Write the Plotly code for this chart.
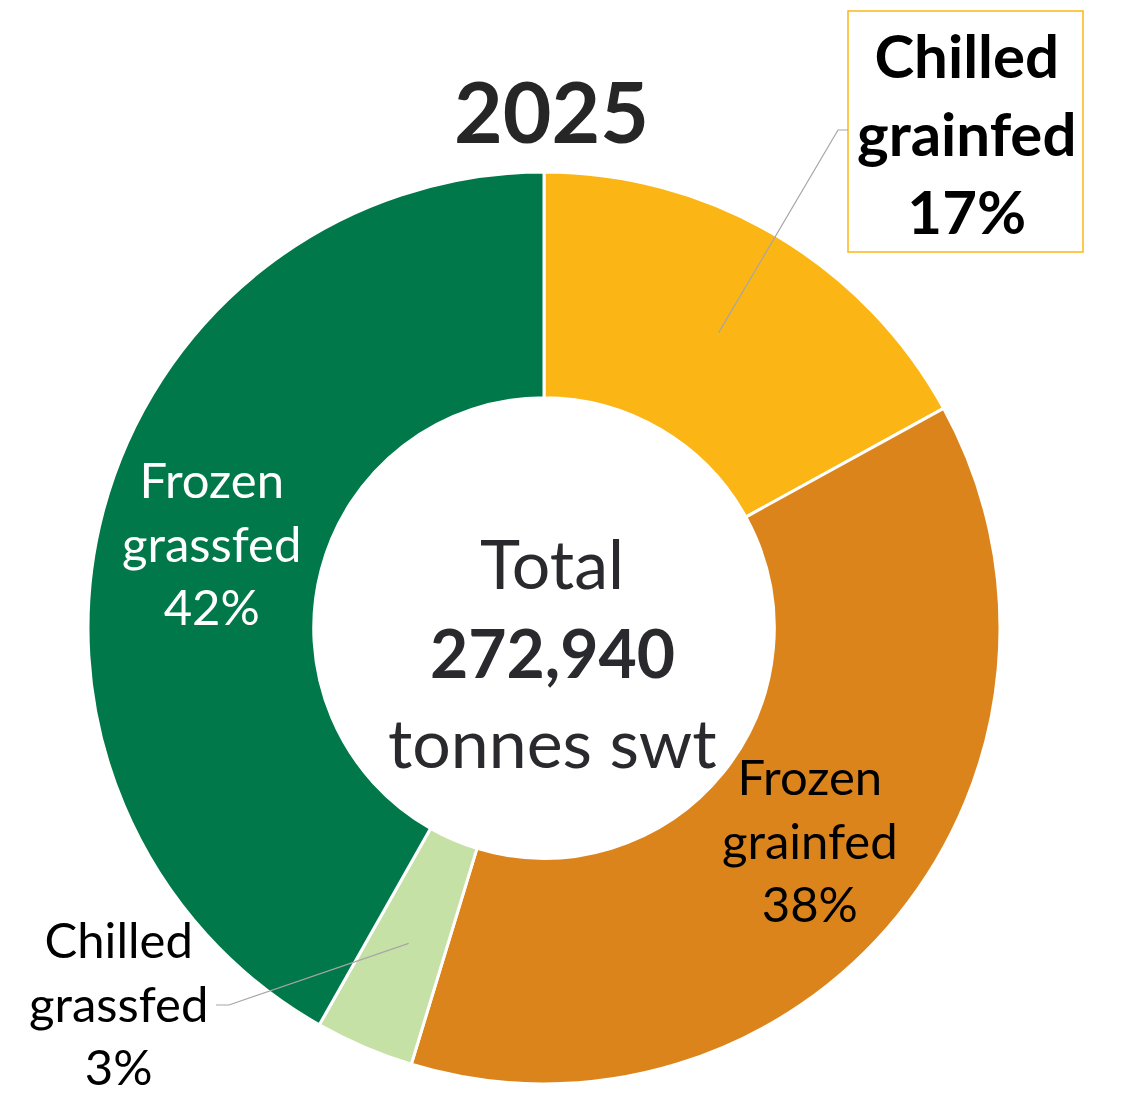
import math
import plotly.graph_objects as go

W, H = 1122, 1097

# ---- data ----
title_year = "2025"
categories = ["Chilled grainfed", "Frozen grainfed", "Chilled grassfed", "Frozen grassfed"]
shares = [17.0, 37.7, 3.5, 41.8]          # share of total volume (%)
pct_labels = ["17%", "38%", "3%", "42%"]
colors = ["#FBB616", "#DC841C", "#C6E1A6", "#00784A"]
total_tonnes = 272940
unit_label = "tonnes swt"

# ---- geometry (pixels) ----
cx, cy, R = 544, 628, 456
hole = 0.505
FONT = "Lato"

def px(x):
    return x / W

def py(y):
    return 1 - y / H

fig = go.Figure()
fig.add_trace(go.Pie(
    labels=categories,
    values=shares,
    sort=False,
    direction="clockwise",
    rotation=0,
    hole=hole,
    marker=dict(colors=colors, line=dict(color="white", width=3)),
    textinfo="none",
    hoverinfo="label+percent",
    showlegend=False,
    domain=dict(x=[px(cx - R), px(cx + R)], y=[py(cy + R), py(cy - R)]),
))

# mid-angle point of a slice on the ring centre line (computed from data)
tot = sum(shares)
def slice_mid_point(i, rfrac):
    start = sum(shares[:i]) / tot * 360
    mid = start + shares[i] / tot * 360 / 2
    r = R * rfrac
    a = math.radians(mid)
    return cx + r * math.sin(a), cy - r * math.cos(a)

ring_mid = (1 + hole) / 2

annotations = []
shapes = []

# title
annotations.append(dict(text=f"<b>{title_year}</b>", x=px(551), y=py(111), xref="paper", yref="paper",
                        showarrow=False, font=dict(family=FONT, size=84, color="#262626"),
                        xanchor="center", yanchor="middle"))

# centre text
annotations.append(dict(text="Total", x=px(552), y=py(562), xref="paper", yref="paper",
                        showarrow=False, font=dict(family=FONT, size=68, color="#2A2A2E"),
                        xanchor="center", yanchor="middle"))
annotations.append(dict(text=f"<b>{total_tonnes:,}</b>", x=px(552), y=py(652), xref="paper", yref="paper",
                        showarrow=False, font=dict(family=FONT, size=66, color="#2A2A2E"),
                        xanchor="center", yanchor="middle"))
annotations.append(dict(text=unit_label, x=px(552), y=py(741), xref="paper", yref="paper",
                        showarrow=False, font=dict(family=FONT, size=68, color="#2A2A2E"),
                        xanchor="center", yanchor="middle"))

def two_line(name):
    parts = name.split(" ")
    return parts[0] + "<br>" + parts[1]

# Chilled grainfed (boxed, bold)
i = 0
annotations.append(dict(text="<b>" + two_line(categories[i]) + "<br>" + pct_labels[i] + "</b>",
                        x=px(966), y=py(133), xref="paper", yref="paper", showarrow=False,
                        font=dict(family=FONT, size=60, color="#000000"),
                        xanchor="center", yanchor="middle", align="center"))
shapes.append(dict(type="rect", xref="paper", yref="paper", x0=px(848), x1=px(1083), y0=py(252), y1=py(11),
                   line=dict(color="#FBB616", width=1.5), fillcolor="rgba(0,0,0,0)"))
sx, sy = slice_mid_point(i, ring_mid)
shapes.append(dict(type="path", xref="paper", yref="paper",
                   path=f"M {px(sx)} {py(sy)} L {px(838)} {py(130)} L {px(848)} {py(130)}",
                   line=dict(color="#A6A6A6", width=1.2)))

# Frozen grainfed
i = 1
annotations.append(dict(text=two_line(categories[i]) + "<br>" + pct_labels[i],
                        x=px(810), y=py(839), xref="paper", yref="paper", showarrow=False,
                        font=dict(family=FONT, size=49, color="#000000"),
                        xanchor="center", yanchor="middle", align="center"))

# Chilled grassfed
i = 2
annotations.append(dict(text=two_line(categories[i]) + "<br>" + pct_labels[i],
                        x=px(118), y=py(1003), xref="paper", yref="paper", showarrow=False,
                        font=dict(family=FONT, size=49, color="#000000"),
                        xanchor="center", yanchor="middle", align="center"))
sx, sy = slice_mid_point(i, ring_mid)
shapes.append(dict(type="path", xref="paper", yref="paper",
                   path=f"M {px(sx)} {py(sy)} L {px(229)} {py(1005)} L {px(216)} {py(1005)}",
                   line=dict(color="#A6A6A6", width=1.2)))

# Frozen grassfed
i = 3
annotations.append(dict(text=two_line(categories[i]) + "<br>" + pct_labels[i],
                        x=px(212), y=py(542), xref="paper", yref="paper", showarrow=False,
                        font=dict(family=FONT, size=49, color="#FFFFFF"),
                        xanchor="center", yanchor="middle", align="center"))

fig.update_layout(
    width=W, height=H,
    margin=dict(l=0, r=0, t=0, b=0),
    paper_bgcolor="white",
    plot_bgcolor="white",
    annotations=annotations,
    shapes=shapes,
)

fig.write_html("out.html", config={"displayModeBar": False},
               post_script="document.body.style.margin='0';document.body.style.overflow='hidden';")
